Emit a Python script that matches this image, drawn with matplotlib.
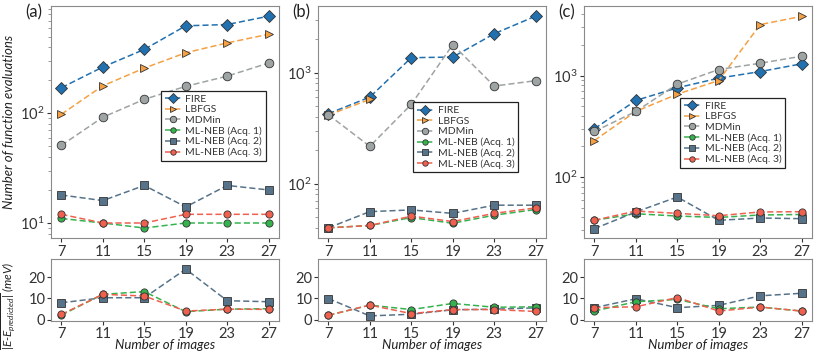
import numpy as np
import matplotlib
matplotlib.use("Agg")
import matplotlib.pyplot as plt

plt.rcParams['font.family'] = ['Lato', 'DejaVu Sans']
plt.rcParams['mathtext.fontset'] = 'custom'
plt.rcParams['mathtext.it'] = 'Lato:italic'
plt.rcParams['mathtext.rm'] = 'Lato:italic'

images = [7, 11, 15, 19, 23, 27]
labels = ["FIRE", "LBFGS", "MDMin", "ML-NEB (Acq. 1)", "ML-NEB (Acq. 2)", "ML-NEB (Acq. 3)"]
panel_titles = ["(a)", "(b)", "(c)"]

# Panel (a): number of function evaluations
a_fire = [171, 264, 382, 627, 644, 767]
a_lbfgs = [98, 178, 258, 356, 438, 525]
a_mdmin = [51, 92, 134, 176, 218, 287]
a_acq1 = [11, 10, 9, 10, 10, 10]
a_acq2 = [18, 16, 22, 14, 22, 20]
a_acq3 = [12, 10, 10, 12, 12, 12]
a_err1 = [2.1, 11.9, 13.2, 3.7, 4.9, 5.1]
a_err2 = [7.9, 10.3, 10.3, 23.8, 8.9, 8.4]
a_err3 = [2.4, 11.9, 11.1, 4.0, 4.9, 4.8]

# Panel (b)
b_fire = [427, 603, 1365, 1383, 2244, 3235]
b_lbfgs = [415, 575, np.nan, np.nan, np.nan, np.nan]
b_mdmin = [418, 217, 518, 1787, 758, 847]
b_acq1 = [40, 42, 49.5, 44, 52, 58.5]
b_acq2 = [40, 56, 58, 54, 64, 64]
b_acq3 = [40, 42, 51, 45.6, 54, 60.5]
b_err1 = [2.0, 6.8, 4.7, 7.6, 5.8, 6.0]
b_err2 = [9.9, 1.7, 2.5, 4.6, 4.9, 5.5]
b_err3 = [2.0, 6.8, 2.8, 4.7, 4.7, 3.8]

# Panel (c)
c_fire = [299, 568, 757, 942, 1094, 1304]
c_lbfgs = [229, 443, 655, 893, 3175, 3830]
c_mdmin = [281, 443, 822, 1146, 1321, 1550]
c_acq1 = [37.5, 43.5, 41.3, 40, 42.3, 42.8]
c_acq2 = [31, 45.3, 63.6, 37.5, 39.5, 38.9]
c_acq3 = [37.5, 46.2, 43.9, 41.6, 45.3, 45.6]
c_err1 = [4.0, 8.4, 9.5, 5.1, 5.9, 4.0]
c_err2 = [5.6, 9.8, 5.6, 6.7, 11.2, 12.4]
c_err3 = [5.6, 6.0, 10.4, 4.0, 5.9, 4.0]

panels = [
    ([a_fire, a_lbfgs, a_mdmin, a_acq1, a_acq2, a_acq3], [a_err1, a_err2, a_err3], (7.3, 950)),
    ([b_fire, b_lbfgs, b_mdmin, b_acq1, b_acq2, b_acq3], [b_err1, b_err2, b_err3], (32.4, 3990)),
    ([c_fire, c_lbfgs, c_mdmin, c_acq1, c_acq2, c_acq3], [c_err1, c_err2, c_err3], (25.1, 4840)),
]

colors = ["#2170b0", "#f5a043", "#9ea3a3", "#35b24e", "#567389", "#f0604f"]
markers = ["D", ">", "o", "o", "s", "o"]
msizes = [6.2, 6.2, 6.2, 5.2, 6.2, 5.2]

W, H = 814, 351
fig = plt.figure(figsize=(W / 100, H / 100), dpi=100)
lefts = [51, 318, 584]
aw = 228
spine_col = "#8a8a8a"
tick_col = "#333333"

legend_anchor = [(0.965, 0.31), (0.9, 0.26), (0.905, 0.28)]

for i, (series, errs, ylim) in enumerate(panels):
    ax = fig.add_axes([lefts[i] / W, (H - 238) / H, aw / W, 232 / H])
    for s, lab, c, m, ms in zip(series, labels, colors, markers, msizes):
        ax.plot(images, s, linestyle="--", color=c, lw=1.1, marker=m, ms=ms,
                markerfacecolor=c, markeredgecolor="#333333", markeredgewidth=0.6,
                label=lab, dashes=(4, 2))
    ax.set_yscale("log")
    ax.set_ylim(*ylim)
    ax.set_xlim(6, 28)
    ax.set_xticks(images)
    ax.tick_params(direction="out", colors=tick_col, labelsize=10.5, length=3, width=0.8,
                   pad=2)
    ax.tick_params(which="minor", length=2, width=0.6, colors=spine_col)
    for sp in ax.spines.values():
        sp.set_color(spine_col)
    leg = ax.legend(loc="lower right", bbox_to_anchor=legend_anchor[i], fontsize=7.5,
                    frameon=True, fancybox=False, edgecolor="#222222", framealpha=1,
                    handlelength=1.6, borderpad=0.35, labelspacing=0.12, handletextpad=0.4,
                    markerscale=0.75)
    leg.get_frame().set_linewidth(0.9)
    for t in leg.get_texts():
        t.set_color("#333333")
    fig.text((lefts[i] - 26) / W, (H - 12) / H, panel_titles[i], fontsize=12,
             ha="left", va="center", color="#222222")
    if i == 0:
        ax.set_ylabel("Number of function evaluations", fontsize=9.5, style="italic",
                      color="#222222")
        ax.yaxis.set_label_coords(-0.16, 0.5)

    bx = fig.add_axes([lefts[i] / W, (H - 321) / H, aw / W, 62 / H])
    order = [1, 0, 2]
    for k in order:
        bx.plot(images, errs[k], linestyle="--", color=colors[3 + k], lw=1.1,
                marker=markers[3 + k], ms=msizes[3 + k], markerfacecolor=colors[3 + k],
                markeredgecolor="#333333", markeredgewidth=0.6, dashes=(4, 2))
    bx.set_ylim(-0.7, 28.6)
    bx.set_yticks([0, 10, 20])
    bx.set_xlim(6, 28)
    bx.set_xticks(images)
    bx.tick_params(direction="out", colors=tick_col, labelsize=10.5, length=3, width=0.8,
                   pad=1)
    for sp in bx.spines.values():
        sp.set_color(spine_col)
    bx.set_xlabel("Number of images", fontsize=9.5, style="italic", color="#222222",
                  labelpad=-1)
    if i == 0:
        bx.set_ylabel(r"$\overline{|E\text{-}E_{predicted}|}$ (meV)", fontsize=8.5,
                      style="italic", color="#222222")
        bx.yaxis.set_label_coords(-0.15, 0.25)

fig.savefig("out.png", dpi=100)
